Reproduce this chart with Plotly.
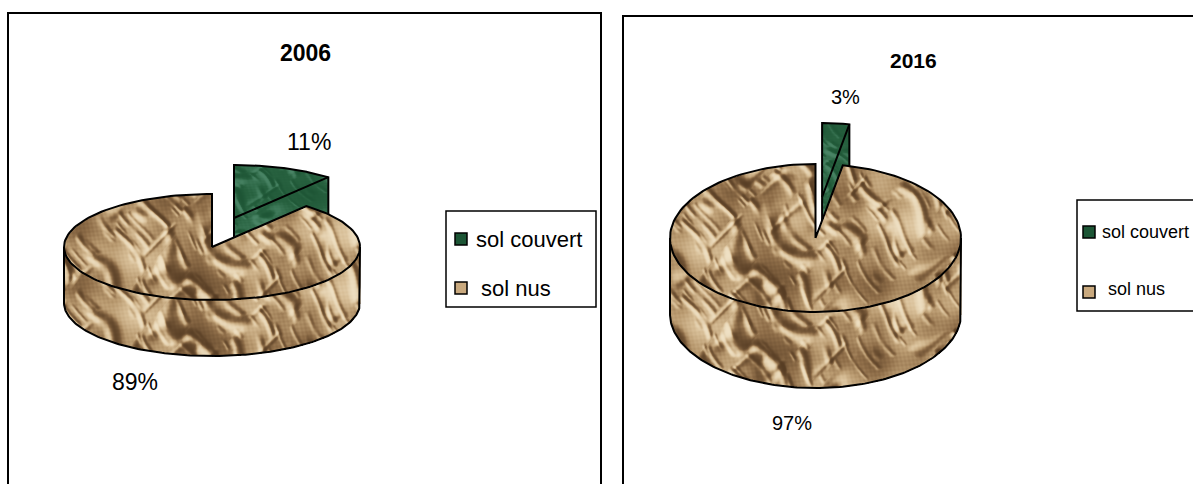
import numpy as np
import plotly.graph_objects as go

years = ["2006", "2016"]
categories = ["sol couvert", "sol nus"]
shares_2006 = [11, 89]
shares_2016 = [3, 97]
label_text_2006 = ["11%", "89%"]
label_text_2016 = ["3%", "97%"]

FONT = "Liberation Sans"
W, H = 1193, 484

TAN_SCALE = [[0, "#563c23"], [0.32, "#8f6e49"], [0.55, "#b8996f"], [0.8, "#d8bf98"], [1, "#f0e2c6"]]
GREEN_SCALE = [[0, "#154a2c"], [0.5, "#27613f"], [1, "#64a083"]]
TAN_SWATCH = "#c9a97e"
GREEN_SWATCH = "#1c5535"

# pixel layout of each pie (the axes run in page pixels)
pie_2006 = dict(cx=212, cy=247, rx=148, ry=53, depth=56, off_x=22, off_y=-29, phase=0.0, blob=(-10, 25))
pie_2016 = dict(cx=815.5, cy=238, rx=145.5, ry=74, depth=76, off_x=6.6, off_y=-41, phase=37.0, blob=(-35, 20))

# creases of the paper fill: across wave, along wave, phase, strength
crease_waves = [
    (0.13, 0.047, 0.4, 1.00),
    (0.19, 0.071, 2.3, 0.90),
    (0.27, 0.097, 4.1, 0.70),
    (0.37, 0.131, 1.2, 0.45),
]


def crumple(x, y, p):
    # crumpled paper look of the original fill, only a style
    xr, yr = x - p["cx"], y - p["cy"]
    sx, sy = xr + p["phase"], yr + 11
    u = (1.5 * sx - sy) / 1.8
    v = (sx + 1.5 * sy) / 1.8
    w1 = 0.9 * np.sin(0.043 * sx + 0.067 * sy + 0.7) + 0.7 * np.sin(0.097 * sx - 0.053 * sy + 2.1)
    w2 = 1.1 * np.sin(0.061 * sx + 0.037 * sy + 1.9) + 0.8 * np.sin(0.127 * sx + 0.089 * sy)
    shade = 0.0
    for k, m, ph, amp in crease_waves:
        p1 = k * u + w1 + ph
        light = np.exp(-5 * (1 - np.cos(p1)))
        dark = np.exp(-5 * (1 - np.cos(p1 - 0.9)))
        window = np.clip(1.4 * np.sin(m * v + w2 + 1.7 * ph), 0, 1)
        shade = shade + amp * (light - dark) * window
    # short strokes the other way
    p2 = 0.17 * v + 1.3 * w2
    shade = shade + 0.5 * (np.exp(-5 * (1 - np.cos(p2))) - np.exp(-5 * (1 - np.cos(p2 - 0.9)))) \
        * np.clip(1.4 * np.sin(0.083 * u + w1), 0, 1)
    patches = np.sin(0.035 * sx + 0.02 * sy + 0.5) * np.sin(0.028 * sx - 0.041 * sy + 1.2) \
        + 0.5 * np.sin(0.07 * sx + 0.09 * sy + 2.0) * np.sin(0.083 * sx - 0.06 * sy)
    bx, by = p["blob"]
    blob = np.exp(-(((xr - bx) / 24) ** 2 + ((yr - by) / 26) ** 2))
    grain = 0.08 * np.sin(0.83 * sx + 0.61 * sy) * np.sin(0.71 * sx - 0.93 * sy)
    return np.tanh(1.5 * shade + 0.5 * patches - 0.6 * blob + grain + 0.05)


def arc(cx, cy, rx, ry, start, end):
    t = np.linspace(start, end, 160)
    return cx + rx * np.sin(t), cy - ry * np.cos(t)


def grid(x0, x1, y0, y1):
    xs = np.arange(np.floor(x0), np.ceil(x1) + 1)
    ys = np.arange(np.floor(y0), np.ceil(y1) + 1)
    return xs, ys, *np.meshgrid(xs, ys)


def tan_slice(p, gap):
    """Main slice: top face plus front wall, from its share."""
    xs, ys, X, Y = grid(p["cx"] - p["rx"], p["cx"] + p["rx"], p["cy"] - p["ry"], p["cy"] + p["ry"] + p["depth"])
    dx = (X - p["cx"]) / p["rx"]
    dy = (Y - p["cy"]) / p["ry"]
    theta = np.mod(np.arctan2(dx, -dy), 2 * np.pi)
    top = (dx ** 2 + dy ** 2 <= 1) & (theta >= gap)
    rim = p["cy"] + p["ry"] * np.sqrt(np.clip(1 - dx ** 2, 0, None))
    side = (np.abs(dx) <= 1) & (Y >= rim) & (Y <= rim + p["depth"])
    z = np.where(top, crumple(X, Y, p), np.nan)
    z = np.where(side & ~top, crumple(X, Y - p["depth"], p), z)

    ax, ay = arc(p["cx"], p["cy"], p["rx"], p["ry"], gap, 2 * np.pi)
    bx, by = arc(p["cx"], p["cy"] + p["depth"], p["rx"], p["ry"], np.pi / 2, 3 * np.pi / 2)
    lx = np.concatenate([[p["cx"]], ax, [p["cx"]], [np.nan],
                         [p["cx"] + p["rx"]], bx, [p["cx"] - p["rx"], p["cx"] - p["rx"]]])
    ly = np.concatenate([[p["cy"]], ay, [p["cy"]], [np.nan],
                         [p["cy"]], by, [p["cy"]]])
    return xs, ys, z, lx, ly


def green_slice(p, gap):
    """Pulled out slice: top face plus its cut wall."""
    cx, cy = p["cx"] + p["off_x"], p["cy"] + p["off_y"]
    ex, ey = cx + p["rx"] * np.sin(gap), cy - p["ry"] * np.cos(gap)
    xs, ys, X, Y = grid(cx, ex + 1, cy - p["ry"], cy + p["depth"])
    dx = (X - cx) / p["rx"]
    dy = (Y - cy) / p["ry"]
    theta = np.mod(np.arctan2(dx, -dy), 2 * np.pi)
    top = (dx ** 2 + dy ** 2 <= 1) & (theta <= gap)
    edge = cy + (ey - cy) * (X - cx) / (ex - cx)
    wall = (X >= cx) & (X <= ex) & (Y >= edge) & (Y <= edge + p["depth"])
    z = np.where(top | wall, 0.6 * crumple(X, Y * 1.5, p), np.nan)

    ax, ay = arc(cx, cy, p["rx"], p["ry"], 0, gap)
    lx = np.concatenate([[cx], ax, [ex, cx, cx, np.nan, cx, ex]])
    ly = np.concatenate([[cy], ay, [ey + p["depth"], cy + p["depth"], cy - p["ry"], np.nan, cy, ey]])
    return xs, ys, z, lx, ly


def slice_traces(xs, ys, z, lx, ly, scale, xaxis, yaxis):
    return [
        go.Heatmap(x=xs, y=ys, z=z.astype("float32"), colorscale=scale, zmin=-1, zmax=1,
                   showscale=False, hoverinfo="skip", xaxis=xaxis, yaxis=yaxis),
        go.Scatter(x=lx, y=ly, mode="lines", line=dict(color="#000000", width=2),
                   showlegend=False, hoverinfo="skip", xaxis=xaxis, yaxis=yaxis),
    ]


fig = go.Figure()

for p, shares in ((pie_2006, shares_2006), (pie_2016, shares_2016)):
    gap = 2 * np.pi * shares[0] / sum(shares)
    # green goes on the first axes pair, tan on the overlay so that it hides the green
    fig.add_traces(slice_traces(*green_slice(p, gap), GREEN_SCALE, "x", "y"))
    fig.add_traces(slice_traces(*tan_slice(p, gap), TAN_SCALE, "x2", "y2"))


def note(x, y, text, size, bold=False, anchor="center"):
    fig.add_annotation(x=x, y=y, text=f"<b>{text}</b>" if bold else text, showarrow=False,
                       xanchor=anchor, font=dict(family=FONT, size=size, color="#000000"))


note(305, 53, years[0], 23, bold=True)
note(913, 60, years[1], 21, bold=True)
note(309, 142, label_text_2006[0], 23)
note(135, 382, label_text_2006[1], 23)
note(845, 97, label_text_2016[0], 20)
note(792, 423, label_text_2016[1], 20)


# the two legends: box, swatches and names
def legend_box(marker_x, marker_ys, text_xs, text_ys, size):
    fig.add_trace(go.Scatter(
        x=[marker_x, marker_x], y=marker_ys, mode="markers", showlegend=False, hoverinfo="skip",
        marker=dict(symbol="square", size=12, color=[GREEN_SWATCH, TAN_SWATCH],
                    line=dict(color="#000000", width=1.5)),
    ))
    for cat, tx, ty in zip(categories, text_xs, text_ys):
        note(tx, ty, cat, size, anchor="left")


legend_box(461, [239, 288], [474, 479], [239, 288], 22)
legend_box(1089, [232, 292], [1100, 1106], [232, 289], 18)

frame_line = dict(color="#000000", width=2)
thin_line = dict(color="#000000", width=1.5)
fig.add_shape(type="path", path=f"M 8 {H + 5} L 8 13 L 601 13 L 601 {H + 5}", line=frame_line)
fig.add_shape(type="path", path=f"M 623 {H + 5} L 623 16 L {W + 5} 16", line=frame_line)
fig.add_shape(type="rect", x0=446, x1=596, y0=211, y1=307, line=thin_line)
fig.add_shape(type="path", path=f"M {W + 5} 200 L 1077 200 L 1077 311 L {W + 5} 311", line=thin_line)

hidden = dict(visible=False, range=[0, W], fixedrange=True)
hidden_y = dict(visible=False, range=[H, 0], fixedrange=True)

fig.update_layout(
    width=W,
    height=H,
    margin=dict(l=0, r=0, t=0, b=0, autoexpand=False),
    paper_bgcolor="#ffffff",
    plot_bgcolor="#ffffff",
    font_family=FONT,
    showlegend=False,
    xaxis=hidden,
    yaxis=hidden_y,
    xaxis2=dict(hidden, overlaying="x"),
    yaxis2=dict(hidden_y, overlaying="y"),
)

fig.write_html("out.html", config={"displayModeBar": False},
               post_script="document.body.style.margin = '0';")
